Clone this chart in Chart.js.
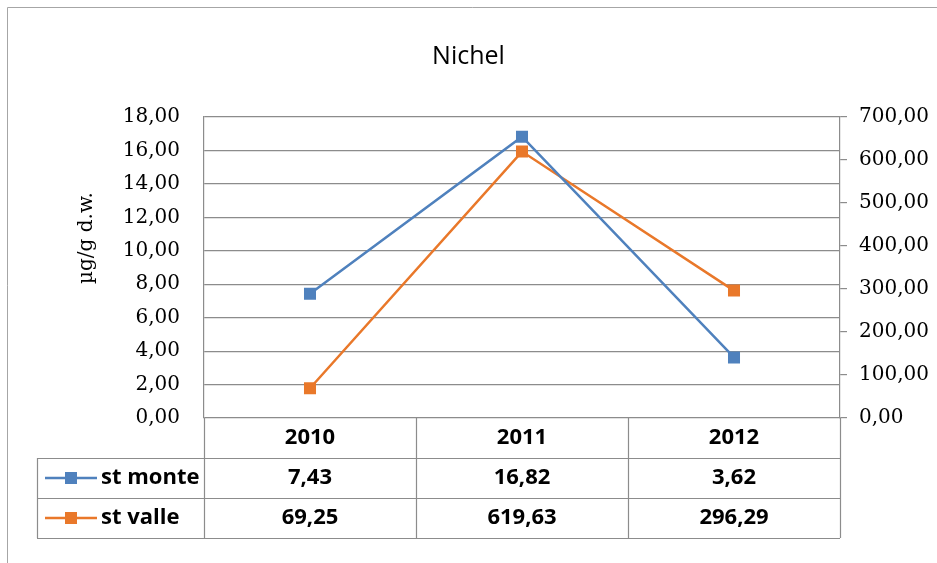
<!DOCTYPE html>
<html>
<head>
<meta charset="utf-8">
<script src="https://cdn.jsdelivr.net/npm/chart.js@4.4.1/dist/chart.umd.min.js"></script>
<style>
    html, body { margin: 0; padding: 0; background: #fff; }
    #wrap { width: 937px; height: 563px; }
</style>
</head>
<body>
<div id="wrap"><canvas id="nichel"></canvas></div>
<script>
var years = ['2010', '2011', '2012'];
var seriesNames = ['st monte', 'st valle'];
var stMonte = [7.43, 16.82, 3.62];
var stValle = [69.25, 619.63, 296.29];
var leftTicks = [0, 2, 4, 6, 8, 10, 12, 14, 16, 18];
var rightTicks = [0, 100, 200, 300, 400, 500, 600, 700];

var BLUE = '#4f81bd';
var ORANGE = '#e9782a';
var GRID = '#8c8c8c';
var SANS = '"Open Sans", "Noto Sans", sans-serif';
var SERIF = '"DejaVu Serif", "Liberation Serif", serif';

function fmt(v) {
    return v.toFixed(2).replace('.', ',');
}

function setTicks(list) {
    return function (scale) {
        scale.ticks = list.map(function (v) { return { value: v }; });
    };
}

// frame, y title and the data table under the plot
var tablePlugin = {
    id: 'excelTable',
    afterDraw: function (chart) {
        var ctx = chart.ctx;
        var area = chart.chartArea;
        var x = chart.scales.x;
        var step = (area.right - area.left) / years.length;
        var rowH = 40;
        var top = area.bottom;
        var legendLeft = 37;
        var i;

        ctx.save();
        // outer frame
        ctx.strokeStyle = '#a6a6a6';
        ctx.lineWidth = 1;
        ctx.beginPath();
        ctx.moveTo(7.5, 563);
        ctx.lineTo(7.5, 7.5);
        ctx.lineTo(937, 7.5);
        ctx.stroke();

        // y axis title
        ctx.fillStyle = '#000';
        ctx.font = '20px ' + SERIF;
        ctx.textAlign = 'center';
        ctx.textBaseline = 'middle';
        ctx.translate(87, 238);
        ctx.rotate(-Math.PI / 2);
        ctx.fillText('µg/g d.w.', 0, 0);
        ctx.setTransform(1, 0, 0, 1, 0, 0);

        // table grid
        ctx.strokeStyle = GRID;
        ctx.lineWidth = 1.2;
        ctx.beginPath();
        for (i = 0; i <= years.length; i++) {
            var vx = Math.round(area.left + i * step) + 0.5;
            ctx.moveTo(vx, top);
            ctx.lineTo(vx, top + rowH * 3);
        }
        ctx.moveTo(legendLeft + 0.5, top + rowH);
        ctx.lineTo(legendLeft + 0.5, top + rowH * 3);
        for (i = 1; i <= 3; i++) {
            var hy = Math.round(top + rowH * i) + 0.5;
            ctx.moveTo(legendLeft, hy);
            ctx.lineTo(area.right, hy);
        }
        ctx.stroke();

        // header and values
        ctx.fillStyle = '#000';
        ctx.font = 'bold 22px ' + SANS;
        ctx.textAlign = 'center';
        var rows = [stMonte, stValle];
        for (i = 0; i < years.length; i++) {
            var cx = x.getPixelForValue(i);
            ctx.fillText(years[i], cx, top + rowH / 2);
            ctx.fillText(fmt(rows[0][i]), cx, top + rowH * 1.5);
            ctx.fillText(fmt(rows[1][i]), cx, top + rowH * 2.5);
        }

        // legend keys
        var colors = [BLUE, ORANGE];
        for (i = 0; i < 2; i++) {
            var ly = top + rowH * (1.5 + i);
            ctx.strokeStyle = colors[i];
            ctx.lineWidth = 2.5;
            ctx.beginPath();
            ctx.moveTo(45, ly);
            ctx.lineTo(97, ly);
            ctx.stroke();
            ctx.fillStyle = colors[i];
            ctx.fillRect(65, ly - 6, 12, 12);
            ctx.fillStyle = '#000';
            ctx.textAlign = 'left';
            ctx.fillText(seriesNames[i], 101, ly);
        }
        ctx.restore();
    }
};

new Chart(document.getElementById('nichel'), {
    type: 'line',
    data: {
        labels: years,
        datasets: [
            {
                label: seriesNames[0],
                data: stMonte,
                yAxisID: 'y',
                borderColor: BLUE,
                backgroundColor: BLUE,
                borderWidth: 2.5,
                pointStyle: 'rect',
                pointRadius: 8.5,
                pointHoverRadius: 8.5,
                pointBorderWidth: 0,
                tension: 0
            },
            {
                label: seriesNames[1],
                data: stValle,
                yAxisID: 'y1',
                borderColor: ORANGE,
                backgroundColor: ORANGE,
                borderWidth: 2.5,
                pointStyle: 'rect',
                pointRadius: 8.5,
                pointHoverRadius: 8.5,
                pointBorderWidth: 0,
                tension: 0
            }
        ]
    },
    options: {
        responsive: true,
        maintainAspectRatio: false,
        animation: false,
        layout: { padding: { left: 0, right: 0, top: 0, bottom: 145 } },
        plugins: {
            legend: { display: false },
            tooltip: { enabled: false },
            title: {
                display: true,
                text: 'Nichel',
                color: '#000',
                font: { family: SANS, size: 25, weight: 'normal' },
                padding: { top: 42, bottom: 45 }
            }
        },
        scales: {
            x: {
                display: false,
                offset: true
            },
            y: {
                position: 'left',
                min: 0,
                max: 18,
                afterBuildTicks: setTicks(leftTicks),
                afterFit: function (scale) { scale.width = 204; },
                grid: { color: GRID, lineWidth: 1.2, drawTicks: false },
                border: { color: GRID, width: 1.2 },
                ticks: {
                    color: '#000',
                    padding: 24,
                    font: { family: SERIF, size: 20 },
                    callback: function (v) { return fmt(v); }
                }
            },
            y1: {
                position: 'right',
                min: 0,
                max: 700,
                afterBuildTicks: setTicks(rightTicks),
                afterFit: function (scale) { scale.width = 97; },
                grid: { drawOnChartArea: false, color: GRID, lineWidth: 1.2, tickLength: 7 },
                border: { color: GRID, width: 1.2 },
                ticks: {
                    color: '#000',
                    padding: 12,
                    font: { family: SERIF, size: 20 },
                    callback: function (v) { return fmt(v); }
                }
            }
        }
    },
    plugins: [tablePlugin]
});
</script>
</body>
</html>
